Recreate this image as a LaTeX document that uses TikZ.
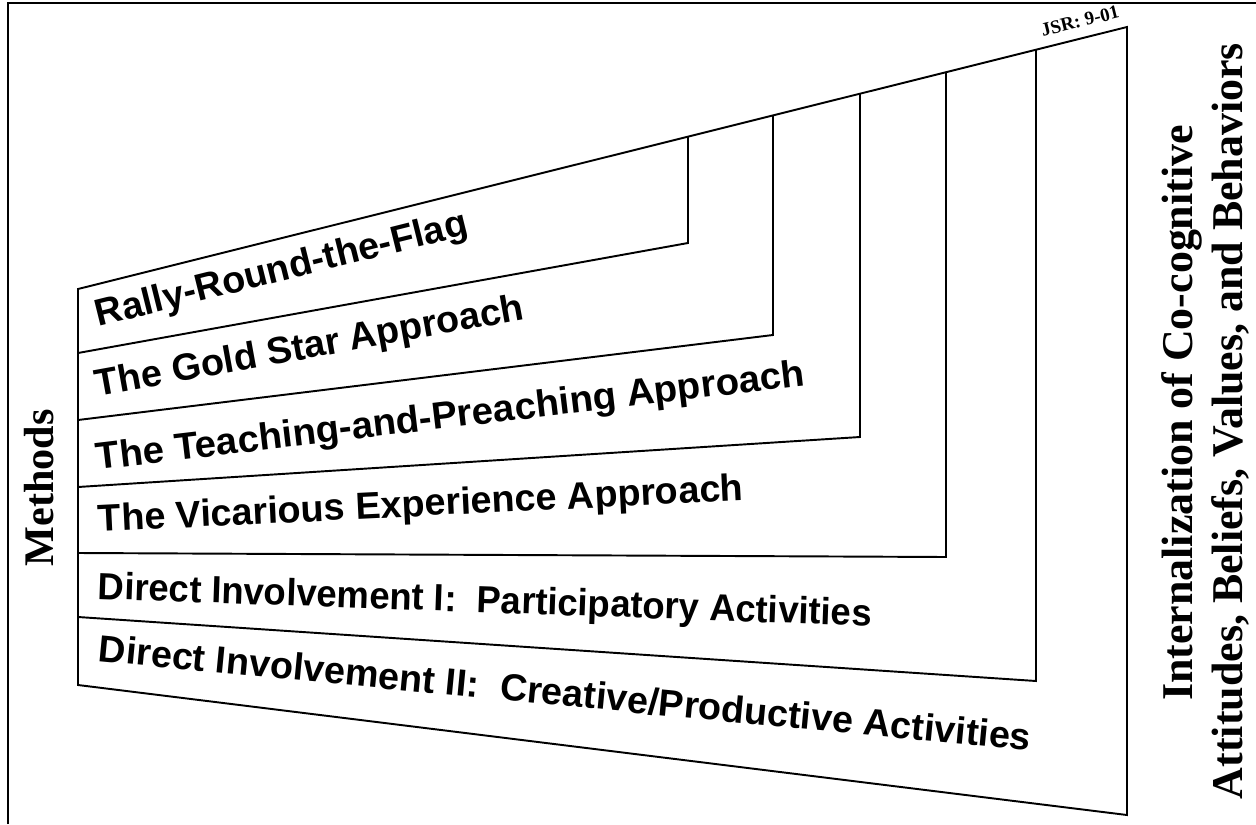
\documentclass[tikz,border=0pt]{standalone}
\usepackage{fontspec}
\setmainfont{Liberation Serif}
\setsansfont{Liberation Sans}

\begin{document}
\begin{tikzpicture}[x=0.02cm, y=-0.02cm, line width=1.1pt,
    method/.style={font=\sffamily\bfseries\fontsize{21.5}{24}\selectfont, anchor=base west, inner sep=0pt},
    sidetext/.style={font=\bfseries\fontsize{25}{28}\selectfont, anchor=base, rotate=90, inner sep=0pt}]
                \useasboundingbox (0, 0) rectangle (1256, 824);
                \draw [line width=1.4pt] (8, 824) -- (8, 3) -- (1256, 3);
                \coordinate (tl) at (78, 289);
                \coordinate (tr) at (1127, 27);
                \coordinate (br) at (1127, 815);
                \coordinate (bl) at (78, 685);
                \draw [line join=miter] (tl) -- (tr) -- (br) -- (bl) -- cycle;
                \draw (78, 353) -- (688, 243) -- (688, 136.5);
                \draw (78, 420) -- (773, 335) -- (773, 115.25);
                \draw (78, 487) -- (860, 437) -- (860, 93.5);
                \draw (78, 553) -- (946, 557) -- (946, 72);
                \draw (78, 617) -- (1036, 681) -- (1036, 49.5);
                \node [method, rotate=14] (rally) at (98, 327) {Rally-Round-the-Flag};
                \node [method, rotate=10.3] (gold) at (97, 397) {The Gold Star Approach};
                \node [method, rotate=6.8, xscale=1.015] (teach) at (97, 470) {The Teaching-and-Preaching Approach};
                \node [method, rotate=2.8] (vicar) at (98, 532) {The Vicarious Experience Approach};
                \node [method, rotate=-2, xscale=0.965] (direct1) at (97, 599) {Direct Involvement I:\ \ Participatory Activities};
                \node [method, rotate=-5.5] (direct2) at (97, 661) {Direct Involvement II:\ \ Creative/Productive Activities};
                \node [sidetext, font=\bfseries\fontsize{24}{28}\selectfont] (methods) at (53, 488) {Methods};
                \node [sidetext] (intern) at (1192, 413) {Internalization of Co-cognitive};
                \node [sidetext] (attit) at (1242, 421) {Attitudes, Beliefs, Values, and Behaviors};
                \node [font=\bfseries\fontsize{10.8}{12}\selectfont, anchor=base west, inner sep=0pt, rotate=14] (jsr) at (1042, 37) {JSR: 9-01};
            \end{tikzpicture}
\end{document}
